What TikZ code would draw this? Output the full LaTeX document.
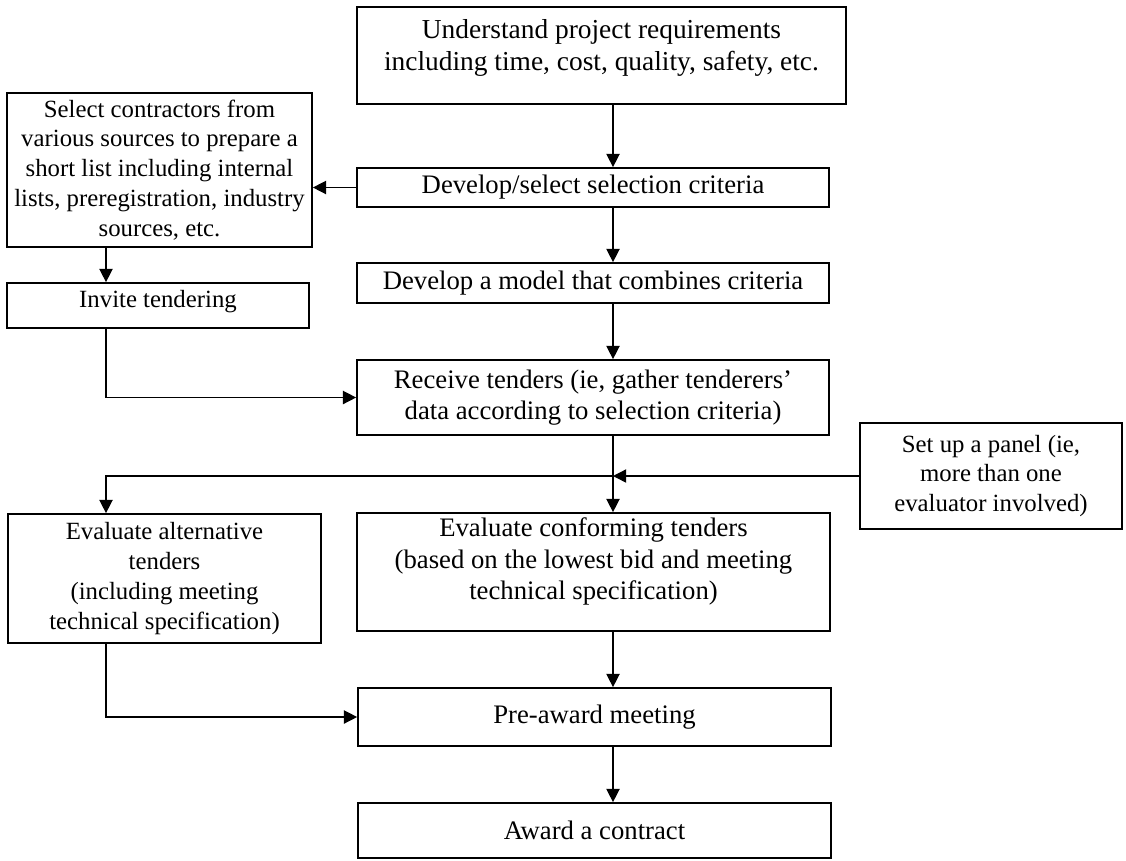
\documentclass[tikz,border=0pt]{standalone}
\usepackage{fontspec}
\setmainfont{Liberation Serif}
\usetikzlibrary{positioning, calc, arrows.meta}

\begin{document}
\begin{tikzpicture}[x=0.02cm, y=-0.02cm,
    box/.style={draw, line width=1pt, rectangle, align=center, inner sep=2pt},
    mid/.style={box, font=\fontsize{15.2}{18}\selectfont},
    side/.style={box, font=\fontsize{14.1}{17}\selectfont},
    >={Triangle[length=7.5pt, width=7.5pt]}, line width=0.8pt,
]
\useasboundingbox (0,0) rectangle (1126,860);

% =================================================================
%  MAIN COLUMN
% =================================================================
\coordinate (colx) at (613, 0);
\node[mid, font=\fontsize{15.6}{18}\selectfont, text depth=12pt,
      minimum width=9.78cm, minimum height=1.94cm] (req) at (601.5, 55.5)
    {Understand project requirements\\including time, cost, quality, safety, etc.};
\node[mid, minimum width=9.44cm, minimum height=0.78cm] (crit) at (593, 187.5)
    {Develop/select selection criteria};
\node[mid, minimum width=9.44cm, minimum height=0.8cm] (model) at (593, 283)
    {Develop a model that combines criteria};
\node[mid, minimum width=9.44cm, minimum height=1.5cm] (recv) at (593, 397.5)
    {Receive tenders (ie, gather tenderers’\\data according to selection criteria)};
\node[mid, text depth=15pt, minimum width=9.46cm, minimum height=2.36cm] (conf) at (593.5, 572)
    {Evaluate conforming tenders\\(based on the lowest bid and meeting\\technical specification)};
\node[mid, minimum width=9.46cm, minimum height=1.16cm] (pre) at (594.5, 717)
    {Pre-award meeting};
\node[mid, minimum width=9.46cm, minimum height=1.1cm] (award) at (594.5, 830.5)
    {Award a contract};

\draw[->] (req.south -| colx)   -- (crit.north -| colx);
\draw[->] (crit.south -| colx)  -- (model.north -| colx);
\draw[->] (model.south -| colx) -- (recv.north -| colx);
\draw[->] (recv.south -| colx)  -- (conf.north -| colx);
\draw[->] (conf.south -| colx)  -- (pre.north -| colx);
\draw[->] (pre.south -| colx)   -- (award.north -| colx);

% =================================================================
%  LEFT BRANCH
% =================================================================
\coordinate (leftx) at (106, 0);
\node[side, minimum width=6.1cm, minimum height=3.08cm] (short) at (159.5, 170)
    {Select contractors from\\various sources to prepare a\\short list including internal\\lists, preregistration, industry\\sources, etc.};
\node[side, text depth=7.5pt, minimum width=6.04cm, minimum height=0.9cm] (invite) at (158, 305.5)
    {Invite tendering};
\node[side, minimum width=6.26cm, minimum height=2.58cm] (alt) at (164.5, 578.5)
    {Evaluate alternative\\tenders\\(including meeting\\technical specification)};

\draw[->] (crit.west) -- (crit.west -| short.east);
\draw[->] (short.south -| leftx) -- (invite.north -| leftx);
\draw[->] (invite.south -| leftx) |- (recv.west);
\draw[->] (alt.south -| leftx) |- (pre.west);

% =================================================================
%  PANEL
% =================================================================
\node[side, minimum width=5.24cm, minimum height=2.12cm] (panel) at (991, 476)
    {Set up a panel (ie,\\more than one\\evaluator involved)};

\draw[->] (panel.west) -- (panel.west -| colx);
\draw[->] (panel.west -| colx) -| (alt.north -| leftx);

\end{tikzpicture}
\end{document}
